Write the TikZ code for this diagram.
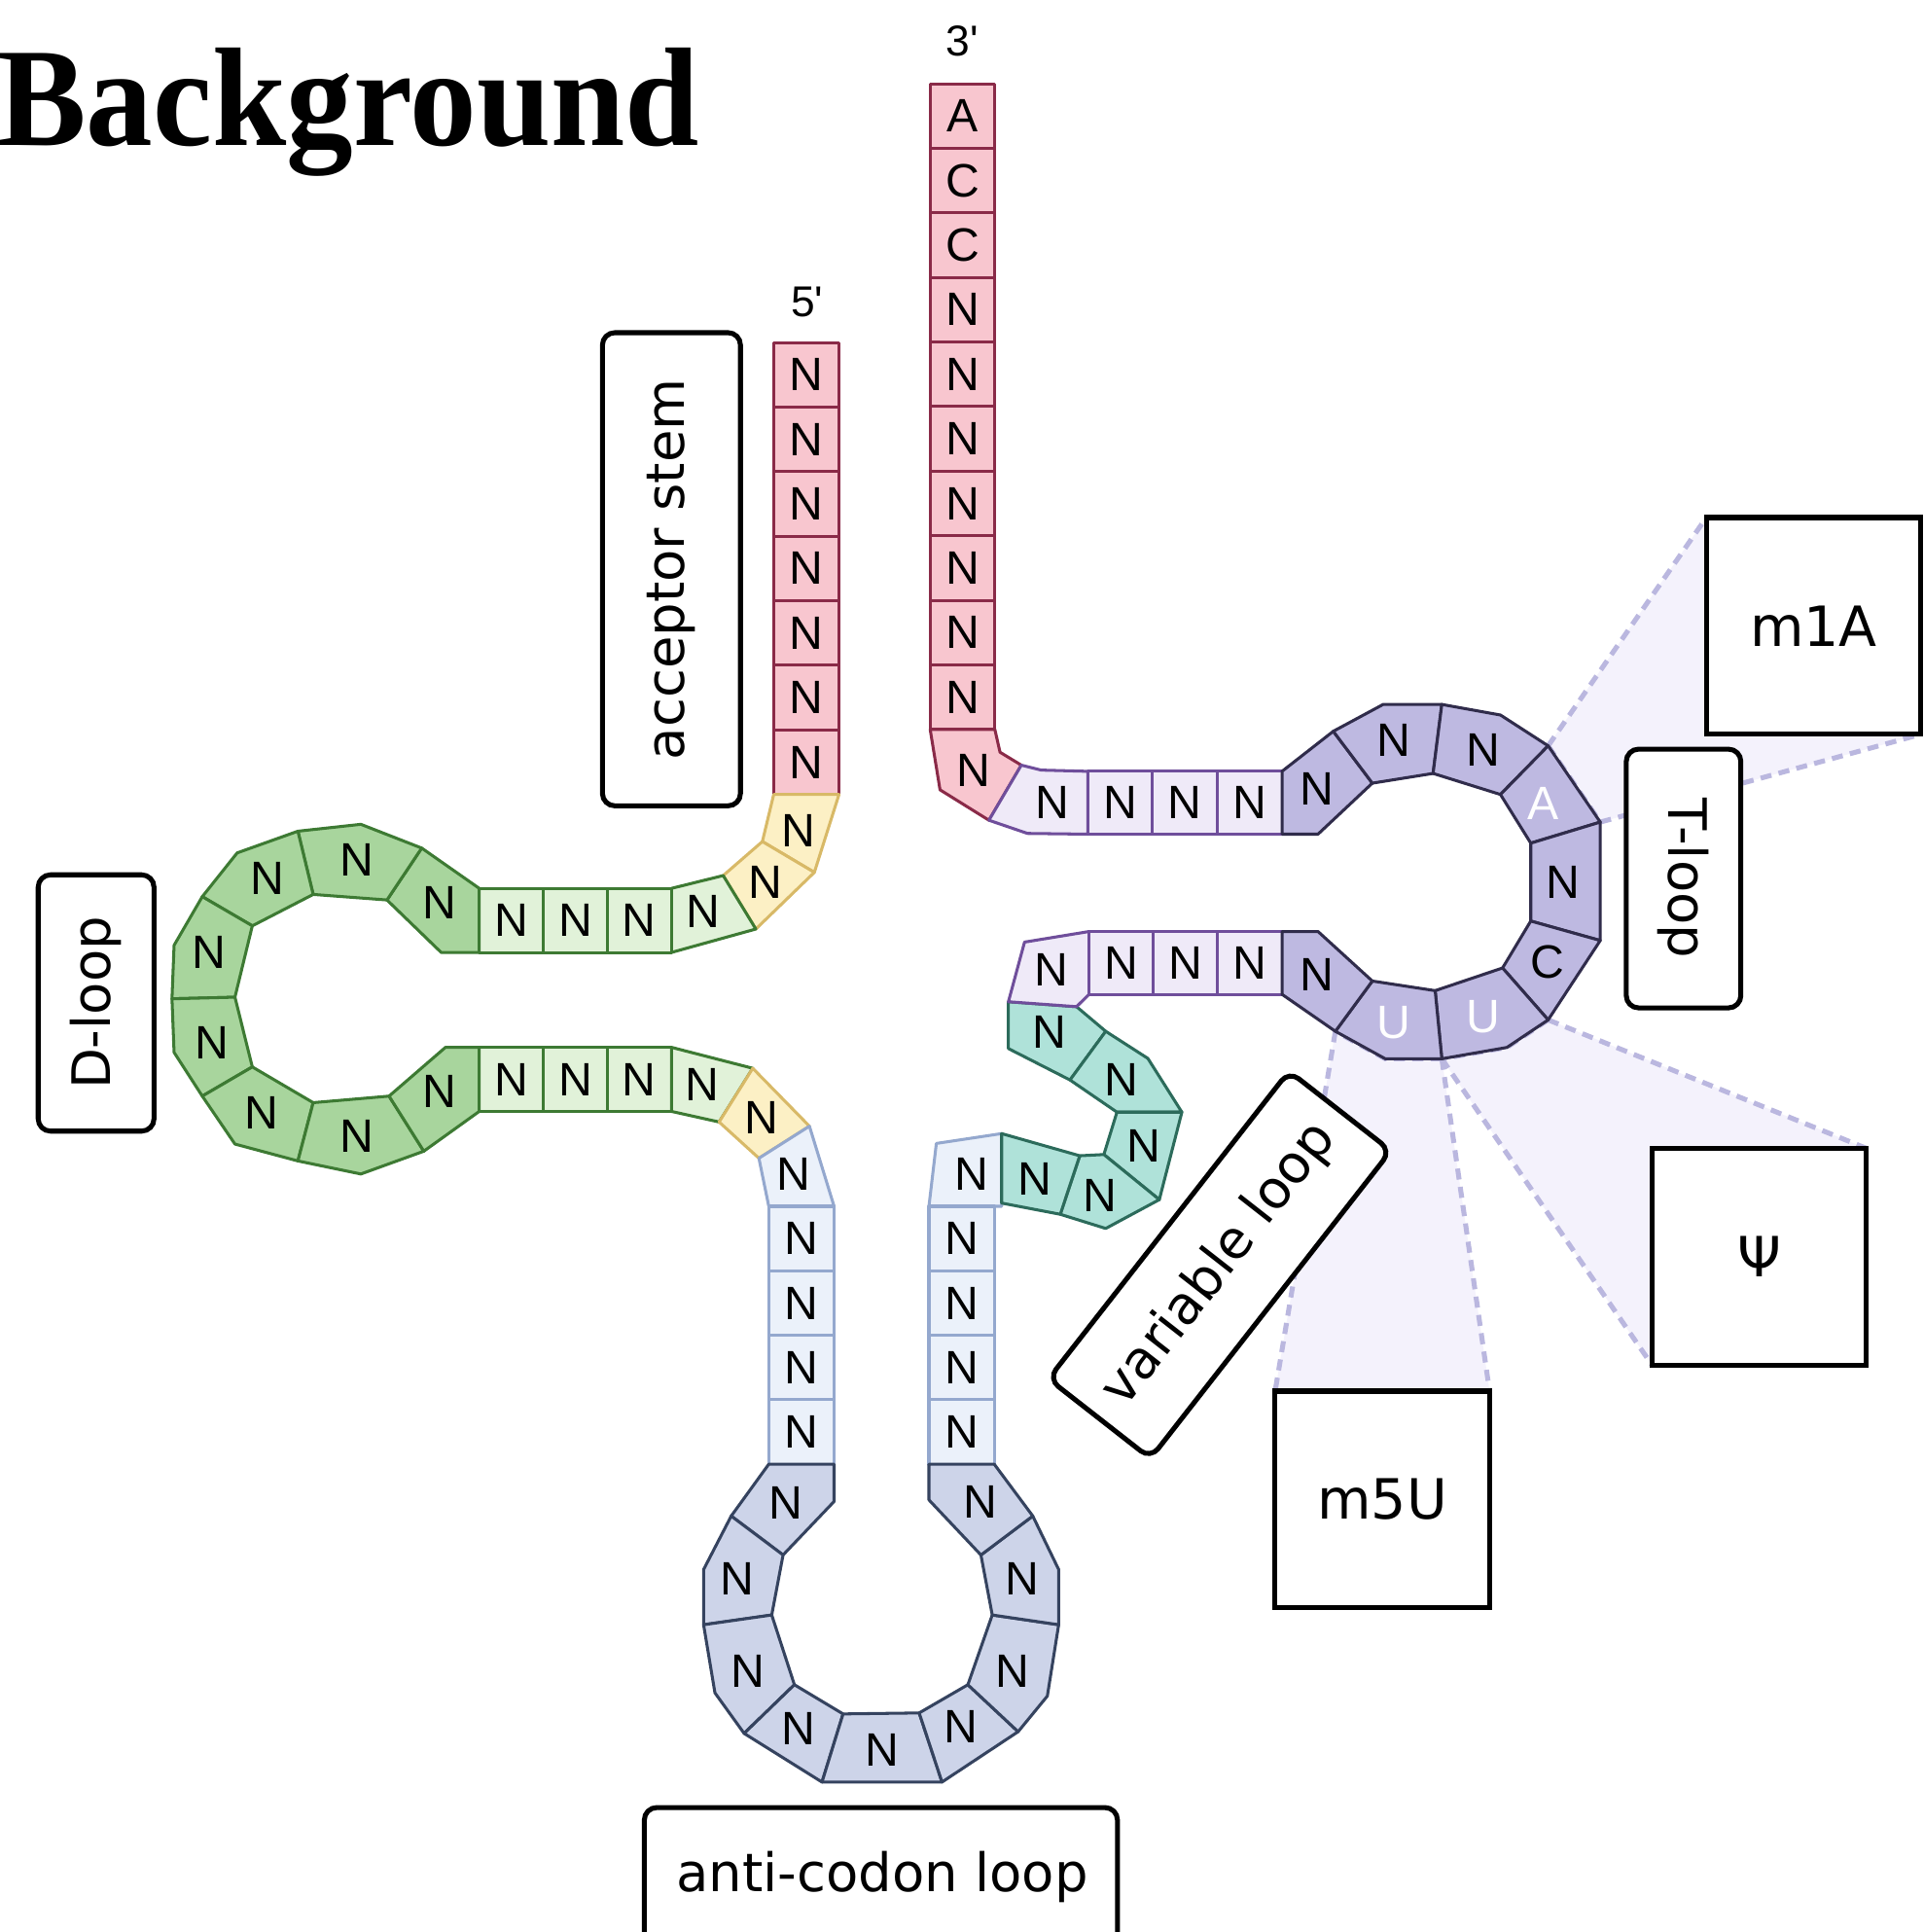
\documentclass[tikz,border=0pt]{standalone}
\usepackage{fontspec}
\setmainfont{Liberation Serif}
\newfontfamily\ntfont{Liberation Sans}
\newfontfamily\lblfont{DejaVu Sans}
\usetikzlibrary{backgrounds}

\definecolor{pinkF}{HTML}{F8C6CF}
\definecolor{pinkD}{HTML}{8A2A48}
\definecolor{yelF}{HTML}{FCF0C5}
\definecolor{yelD}{HTML}{D8B967}
\definecolor{lgrnF}{HTML}{E1F2D9}
\definecolor{dgrnF}{HTML}{A8D59D}
\definecolor{grnD}{HTML}{3D7A33}
\definecolor{lbluF}{HTML}{EBF1FA}
\definecolor{lbluD}{HTML}{94A8CE}
\definecolor{dbluF}{HTML}{CDD4E9}
\definecolor{dbluD}{HTML}{35435F}
\definecolor{tealF}{HTML}{AFE2D9}
\definecolor{tealD}{HTML}{2C6B5B}
\definecolor{lpurF}{HTML}{EFEAF8}
\definecolor{lpurD}{HTML}{6F4E9B}
\definecolor{dpurF}{HTML}{BEB9E1}
\definecolor{dpurD}{HTML}{302C4B}
\definecolor{fanF}{HTML}{F4F2FC}
\definecolor{fanD}{HTML}{BAB7DF}

\newcounter{ntc}
% one nucleotide: style, letter, outline, letter position
\newcommand\ntpiece[4]{%
  \filldraw[#1] #3 -- cycle;
  \stepcounter{ntc}%
  \node[ntlabel] (nt\arabic{ntc}) at #4 {#2};}

\begin{document}
\begin{tikzpicture}[x=0.5pt, y=-0.5pt,
  every node/.style={inner sep=0pt, outer sep=0pt},
  ntlabel/.style={font=\ntfont\fontsize{19}{20}\selectfont},
  endlabel/.style={font=\ntfont\fontsize{17.5}{19}\selectfont},
  piece/.style={line width=1.2pt, line join=round},
  pinkbox/.style={piece, fill=pinkF, draw=pinkD},
  yelbox/.style={piece, fill=yelF, draw=yelD},
  lgrnbox/.style={piece, fill=lgrnF, draw=grnD},
  dgrnbox/.style={piece, fill=dgrnF, draw=grnD},
  lblubox/.style={piece, fill=lbluF, draw=lbluD},
  dblubox/.style={piece, fill=dbluF, draw=dbluD},
  tealbox/.style={piece, fill=tealF, draw=tealD},
  lpurbox/.style={piece, fill=lpurF, draw=lpurD},
  dpurbox/.style={piece, fill=dpurF, draw=dpurD},
  lblbox/.style={draw, fill=white, line width=2pt, rounded corners=5pt,
    font=\lblfont\fontsize{21.5}{24}\selectfont},
  modbox/.style={draw, fill=white, line width=2pt, minimum width=87pt,
    minimum height=88pt, font=\lblfont\fontsize{22.5}{24}\selectfont},
  fanline/.style={draw=fanD, line width=2pt, dash pattern=on 4.5pt off 3pt},
]
\useasboundingbox (0,0) rectangle (1561,1568);

% ---------- ring coordinates ----------
% T-loop, outer edge
\coordinate (to1) at (1040.6,626);
\coordinate (to2) at (1082.2,593.5);
\coordinate (to3) at (1122.7,571.7);
\coordinate (to4) at (1170.3,571.7);
\coordinate (to5) at (1217.9,580.3);
\coordinate (to6) at (1256.6,605.3);
\coordinate (to7) at (1298.9,667.2);
\coordinate (to8) at (1298.9,763.3);
\coordinate (to9) at (1256.6,827.7);
\coordinate (to10) at (1223.1,850.1);
\coordinate (to11) at (1170.3,859.3);
\coordinate (to12) at (1124.4,859.3);
\coordinate (to13) at (1083.9,837);
\coordinate (to14) at (1040.6,807);
% T-loop, inner edge
\coordinate (ti1) at (1040.6,677);
\coordinate (ti1b) at (1069.8,677);
\coordinate (ti2) at (1113.9,635.6);
\coordinate (ti3) at (1163.2,627.7);
\coordinate (ti4) at (1217.9,644.8);
\coordinate (ti5) at (1242.5,684.3);
\coordinate (ti6) at (1242.5,747.5);
\coordinate (ti7) at (1219.6,785.6);
\coordinate (ti8) at (1164.9,804);
\coordinate (ti9) at (1113.9,796.2);
\coordinate (ti10b) at (1069.8,756);
\coordinate (ti10) at (1040.6,756);
% D-loop, outer edge
\coordinate (do1) at (389,721);
\coordinate (do2) at (342.3,688.3);
\coordinate (do3) at (292.9,669);
\coordinate (do4) at (241.8,674.6);
\coordinate (do5) at (192.5,692.2);
\coordinate (do6) at (164.2,727.7);
\coordinate (do7) at (141.3,767.2);
\coordinate (do8) at (139.6,810.6);
\coordinate (do9) at (141.3,854.1);
\coordinate (do10) at (164.2,889.6);
\coordinate (do11) at (190.7,928.5);
\coordinate (do12) at (241.8,942.2);
\coordinate (do13) at (292.9,952.8);
\coordinate (do14) at (344,934.3);
\coordinate (do15) at (389,902);
% D-loop, inner edge
\coordinate (di1) at (389,773);
\coordinate (di1b) at (358.1,773);
\coordinate (di2) at (314.1,730.4);
\coordinate (di3) at (254.2,725.9);
\coordinate (di4) at (204.8,751.4);
\coordinate (di5) at (190.7,809.3);
\coordinate (di6) at (204.8,865.9);
\coordinate (di7) at (254.2,894.9);
\coordinate (di8) at (315.8,889.6);
\coordinate (di9b) at (361.6,850);
\coordinate (di9) at (389,850);
% anticodon loop, outer edge
\coordinate (ao1) at (624,1188.3);
\coordinate (ao2) at (593.5,1230.4);
\coordinate (ao3) at (571.1,1273.8);
\coordinate (ao4) at (571.1,1318.6);
\coordinate (ao5) at (580.3,1373.9);
\coordinate (ao6) at (604,1406.8);
\coordinate (ao7) at (667.2,1446.3);
\coordinate (ao8) at (764.6,1446.3);
\coordinate (ao9) at (826.4,1405.4);
\coordinate (ao10) at (850.1,1376.5);
\coordinate (ao11) at (859.3,1318.6);
\coordinate (ao12) at (859.3,1273.8);
\coordinate (ao13) at (838.3,1230.4);
\coordinate (ao14) at (807,1188.3);
% anticodon loop, inner edge
\coordinate (ai1) at (677,1188.3);
\coordinate (ai1b) at (677,1218.6);
\coordinate (ai2) at (635.6,1262);
\coordinate (ai3) at (626.4,1310.7);
\coordinate (ai4) at (644.8,1367.3);
\coordinate (ai5) at (684.3,1391);
\coordinate (ai6) at (746.1,1390.2);
\coordinate (ai7) at (785.6,1367.3);
\coordinate (ai8) at (805.4,1310.7);
\coordinate (ai9) at (796.2,1262);
\coordinate (ai10b) at (754,1217.3);
\coordinate (ai10) at (754,1188.3);

% ---------- title and end labels ----------
\node[anchor=base west, font=\bfseries\fontsize{57}{60}\selectfont, xscale=0.95]
  (title) at (-2,118) {Background};
\node[endlabel] (three) at (781,33) {3\textquotesingle};
\node[endlabel] (five) at (655,245) {5\textquotesingle};

% ---------- modification boxes ----------
\node[modbox] (m1A) at (1472,508) {m1A};
\node[modbox] (psi) at (1428,1020) {Ψ};
\node[modbox] (m5U) at (1122,1217) {m5U};

% ---------- highlight fans behind everything ----------
\begin{pgfonlayer}{background}
  \fill[white] (0,0) rectangle (1561,1568);
  \fill[fanF] (to6) -- (m1A.north west) -- (m1A.south east) -- (to7) -- cycle;
  \draw[fanline] (to6) -- (m1A.north west);
  \draw[fanline] (to7) -- (m1A.south east);
  \draw[fanline] (to6) -- (to7);
  \fill[fanF] (to9) -- (psi.north east) -- (psi.south west) -- (to11) -- (to10) -- cycle;
  \draw[fanline] (to9) -- (psi.north east);
  \draw[fanline] (to11) -- (psi.south west);
  \draw[fanline] (to9) -- (to10) -- (to11);
  \fill[fanF] (to11) -- (m5U.north east) -- (m5U.north west) -- (to13) -- (to12) -- cycle;
  \draw[fanline] (to11) -- (m5U.north east);
  \draw[fanline] (to13) -- (m5U.north west);
  \draw[fanline] (to11) -- (to12) -- (to13);
\end{pgfonlayer}

% ---------- acceptor stem ----------
\foreach \t [count=\k from 0] in {A,C,C,N,N,N,N,N,N,N}{
  \pgfmathsetmacro\ya{68+52.4*\k}
  \pgfmathsetmacro\yb{\ya+52.4}
  \pgfmathsetmacro\ym{\ya+26.2}
  \ntpiece{pinkbox}{\t}{(755,\ya) -- (807.5,\ya) -- (807.5,\yb) -- (755,\yb)}{(781.25,\ym)}
}
\ntpiece{pinkbox}{N}{(755,592) -- (807.5,592) -- (811.7,610.5) -- (829,621) -- (802.7,665.7) -- (763,641)}{(790,625)}
\foreach \k in {0,...,6}{
  \pgfmathsetmacro\ya{278+52.4*\k}
  \pgfmathsetmacro\yb{\ya+52.4}
  \pgfmathsetmacro\ym{\ya+26.2}
  \ntpiece{pinkbox}{N}{(628,\ya) -- (681,\ya) -- (681,\yb) -- (628,\yb)}{(654.5,\ym)}
}

% ---------- junction to the D-arm ----------
\ntpiece{yelbox}{N}{(628,644.8) -- (681,644.8) -- (661,708) -- (618.8,683)}{(648,674)}
\ntpiece{yelbox}{N}{(587,710.6) -- (618.8,683) -- (661,708) -- (613.5,754)}{(621,716)}

% ---------- D-arm ----------
\ntpiece{lgrnbox}{N}{(545,721) -- (587,710.6) -- (613.5,754) -- (545,773)}{(571,740)}
\foreach \xa in {389,441,493}{
  \pgfmathsetmacro\xb{\xa+52}
  \pgfmathsetmacro\xm{\xa+26}
  \ntpiece{lgrnbox}{N}{(\xa,721) -- (\xb,721) -- (\xb,773) -- (\xa,773)}{(\xm,747)}
  \ntpiece{lgrnbox}{N}{(\xa,850) -- (\xb,850) -- (\xb,902) -- (\xa,902)}{(\xm,876)}
}
\ntpiece{dgrnbox}{N}{(do1) -- (do2) -- (di2) -- (di1b) -- (di1)}{(357,733)}
\ntpiece{dgrnbox}{N}{(do2) -- (do3) -- (do4) -- (di3) -- (di2)}{(290,698)}
\ntpiece{dgrnbox}{N}{(do4) -- (do5) -- (do6) -- (di4) -- (di3)}{(217,713)}
\ntpiece{dgrnbox}{N}{(do6) -- (do7) -- (do8) -- (di5) -- (di4)}{(170,773)}
\ntpiece{dgrnbox}{N}{(do8) -- (do9) -- (do10) -- (di6) -- (di5)}{(172,846)}
\ntpiece{dgrnbox}{N}{(do10) -- (do11) -- (do12) -- (di7) -- (di6)}{(212,903)}
\ntpiece{dgrnbox}{N}{(do12) -- (do13) -- (do14) -- (di8) -- (di7)}{(290,922)}
\ntpiece{dgrnbox}{N}{(do14) -- (do15) -- (di9) -- (di9b) -- (di8)}{(357,886)}
\ntpiece{lgrnbox}{N}{(545,850) -- (611,867) -- (583.7,910.6) -- (545,902)}{(570,880)}

% ---------- junction to the anticodon arm ----------
\ntpiece{yelbox}{N}{(611,867) -- (657,914) -- (616,940) -- (583.7,910.6)}{(618,907)}

% ---------- anticodon arm ----------
\ntpiece{lblubox}{N}{(616,940) -- (657,914) -- (677,979) -- (624,979)}{(644,953)}
\ntpiece{lblubox}{N}{(754,979) -- (760,928) -- (813,920) -- (813,979)}{(789,953)}
\foreach \k in {0,...,3}{
  \pgfmathsetmacro\ya{979+52.33*\k}
  \pgfmathsetmacro\yb{\ya+52.33}
  \pgfmathsetmacro\ym{\ya+26.2}
  \ntpiece{lblubox}{N}{(624,\ya) -- (677,\ya) -- (677,\yb) -- (624,\yb)}{(650.5,\ym)}
  \ntpiece{lblubox}{N}{(754,\ya) -- (807,\ya) -- (807,\yb) -- (754,\yb)}{(780.5,\ym)}
}
\ntpiece{dblubox}{N}{(ao1) -- (ao2) -- (ai2) -- (ai1b) -- (ai1)}{(638,1220)}
\ntpiece{dblubox}{N}{(ao2) -- (ao3) -- (ao4) -- (ai3) -- (ai2)}{(598,1281)}
\ntpiece{dblubox}{N}{(ao4) -- (ao5) -- (ao6) -- (ai4) -- (ai3)}{(607,1356)}
\ntpiece{dblubox}{N}{(ao6) -- (ao7) -- (ai5) -- (ai4)}{(648,1403)}
\ntpiece{dblubox}{N}{(ao7) -- (ao8) -- (ai6) -- (ai5)}{(716,1420)}
\ntpiece{dblubox}{N}{(ao8) -- (ao9) -- (ai7) -- (ai6)}{(780,1401)}
\ntpiece{dblubox}{N}{(ao9) -- (ao10) -- (ao11) -- (ai8) -- (ai7)}{(822,1356)}
\ntpiece{dblubox}{N}{(ao11) -- (ao12) -- (ao13) -- (ai9) -- (ai8)}{(830,1281)}
\ntpiece{dblubox}{N}{(ao13) -- (ao14) -- (ai10) -- (ai10b) -- (ai9)}{(796,1219)}

% ---------- variable loop ----------
\ntpiece{tealbox}{N}{(818.5,813) -- (873.8,817) -- (897.5,837) -- (868.5,876.5) -- (818.5,851)}{(852,838)}
\ntpiece{tealbox}{N}{(897.5,837) -- (931.7,859) -- (959.3,902.6) -- (906.6,902.6) -- (868.5,876.5)}{(910,876)}
\ntpiece{tealbox}{N}{(906.6,902.6) -- (959.3,902.6) -- (941,973.6) -- (896,937)}{(928,930)}
\ntpiece{tealbox}{N}{(896,937) -- (941,973.6) -- (897.5,997) -- (860.6,985.5) -- (876.4,938)}{(893,970)}
\ntpiece{tealbox}{N}{(876.4,938) -- (860.6,985.5) -- (813,976.4) -- (813,920)}{(840,957)}

% ---------- T-arm ----------
\ntpiece{lpurbox}{N}{(829,621) -- (845,625) -- (883,626) -- (883,677) -- (834,676.4) -- (802.7,665.7)}{(854,651)}
\ntpiece{lpurbox}{N}{(831.6,764.6) -- (884,756) -- (884,807) -- (873.8,817) -- (818.5,813)}{(853,787)}
\foreach \xa in {883,935.5,988}{
  \pgfmathsetmacro\xb{\xa+52.6}
  \pgfmathsetmacro\xm{\xa+26.3}
  \ntpiece{lpurbox}{N}{(\xa,626) -- (\xb,626) -- (\xb,677) -- (\xa,677)}{(\xm,651.5)}
}
\foreach \xa in {884,936.2,988.4}{
  \pgfmathsetmacro\xb{\xa+52.2}
  \pgfmathsetmacro\xm{\xa+26.1}
  \ntpiece{lpurbox}{N}{(\xa,756) -- (\xb,756) -- (\xb,807) -- (\xa,807)}{(\xm,781.5)}
}
\ntpiece{dpurbox}{N}{(to1) -- (to2) -- (ti2) -- (ti1b) -- (ti1)}{(1069,640)}
\ntpiece{dpurbox}{N}{(to2) -- (to3) -- (to4) -- (ti3) -- (ti2)}{(1131,601)}
\ntpiece{dpurbox}{N}{(to4) -- (to5) -- (to6) -- (ti4) -- (ti3)}{(1204,609)}
\ntpiece{dpurbox}{\color{white}A}{(to6) -- (to7) -- (ti5) -- (ti4)}{(1253,652)}
\ntpiece{dpurbox}{N}{(to7) -- (to8) -- (ti6) -- (ti5)}{(1269,716)}
\ntpiece{dpurbox}{C}{(to8) -- (to9) -- (ti7) -- (ti6)}{(1256,781)}
\ntpiece{dpurbox}{\color{white}U}{(to9) -- (to10) -- (to11) -- (ti8) -- (ti7)}{(1204,825)}
\ntpiece{dpurbox}{\color{white}U}{(to11) -- (to12) -- (to13) -- (ti9) -- (ti8)}{(1131,830)}
\ntpiece{dpurbox}{N}{(to13) -- (to14) -- (ti10) -- (ti10b) -- (ti9)}{(1069,791)}

% ---------- region labels ----------
\node[lblbox, rotate=90, minimum width=192pt, minimum height=56pt] (acc) at (545,462) {acceptor stem};
\node[lblbox, rotate=90, minimum width=104pt, minimum height=47pt] (dloop) at (78,814) {D-loop};
\node[lblbox, rotate=-90, minimum width=105pt, minimum height=46.5pt] (tloop) at (1366.5,713) {T-loop};
\node[lblbox, rotate=52, minimum width=158.5pt, minimum height=52.5pt] (varloop) at (990,1026.5) {variable loop};
\draw[line width=2pt, rounded corners=5pt, fill=white] (523,1610) -- (523,1467) -- (907,1467) -- (907,1610);
\node[font=\lblfont\fontsize{21.5}{24}\selectfont] (acloop) at (716,1523) {anti-codon loop};
\end{tikzpicture}
\end{document}
